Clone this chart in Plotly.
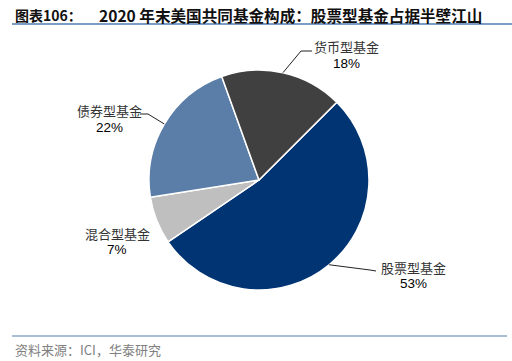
import math
import plotly.graph_objects as go

# ---- data ----
categories = ["股票型基金", "混合型基金", "债券型基金", "货币型基金"]
shares = [53, 7, 22, 18]
colors = ["#003473", "#BFBFBF", "#5B7EA8", "#404040"]

title_prefix = "图表106："
title_main = "2020 年末美国共同基金构成：股票型基金占据半壁江山"
source_text = "资料来源：ICI，华泰研究"

W, H = 512, 361
CX, CY, R = 259, 180, 110
ROT = 45

def px(x):
    return x / W

def py(y):
    return 1 - y / H

fig = go.Figure()
fig.add_trace(go.Pie(
    labels=categories,
    values=shares,
    sort=False,
    direction="clockwise",
    rotation=ROT,
    marker=dict(colors=colors, line=dict(color="white", width=1.5)),
    textinfo="none",
    hoverinfo="label+percent",
    showlegend=False,
    domain=dict(x=[px(CX - R), px(CX + R)], y=[py(CY + R), py(CY - R)]),
))

# slice mid-angles (clockwise from 12 o'clock) computed from the data
total = sum(shares)
mids = {}
acc = ROT
for c, v in zip(categories, shares):
    span = 360 * v / total
    mids[c] = acc + span / 2
    acc += span

def edge(c):
    a = math.radians(mids[c])
    return CX + R * math.sin(a), CY - R * math.cos(a)

# label layout: (elbow point, end point, text centre x, name y, pct y)
label_layout = {
    "货币型基金": ((301, 51), (312, 51), 346, 46, 63),
    "债券型基金": ((148, 114), (140, 114), 109, 111, 128),
    "混合型基金": (None, None, 117, 233, 249),
    "股票型基金": ((370, 270), (376, 271), 413, 267, 283),
}

shapes = []
annotations = []
for c, v in zip(categories, shares):
    elbow, end, tx, ny, pyy = label_layout[c]
    if elbow is not None:
        ex, ey = edge(c)
        shapes.append(dict(type="path", xref="paper", yref="paper",
                           path=f"M {px(ex)} {py(ey)} L {px(elbow[0])} {py(elbow[1])} L {px(end[0])} {py(end[1])}",
                           line=dict(color="#222222", width=1)))
    annotations.append(dict(x=px(tx), y=py(ny), xref="paper", yref="paper", text=c,
                            showarrow=False, xanchor="center", yanchor="middle",
                            font=dict(family="Noto Sans CJK SC", size=13, color="#333333")))
    annotations.append(dict(x=px(tx), y=py(pyy), xref="paper", yref="paper", text=f"{v}%",
                            showarrow=False, xanchor="center", yanchor="middle",
                            font=dict(family="Liberation Sans, Arial", size=13.5, color="#000000")))

# title
annotations.append(dict(x=px(13), y=py(15), xref="paper", yref="paper", text=f"<b>{title_prefix}</b>",
                        showarrow=False, xanchor="left", yanchor="middle",
                        font=dict(family="Noto Sans CJK SC", size=14, color="#111111")))
annotations.append(dict(x=px(97), y=py(15), xref="paper", yref="paper", text=f"<b>{title_main}</b>",
                        showarrow=False, xanchor="left", yanchor="middle",
                        font=dict(family="Noto Sans CJK SC", size=15.6, color="#111111")))
# source
annotations.append(dict(x=px(13), y=py(349), xref="paper", yref="paper", text=source_text,
                        showarrow=False, xanchor="left", yanchor="middle",
                        font=dict(family="Noto Sans CJK SC", size=13, color="#808080")))

shapes.append(dict(type="line", xref="paper", yref="paper", x0=px(12), x1=px(512), y0=py(24), y1=py(24),
                   line=dict(color="#4F7DB0", width=1.5)))
shapes.append(dict(type="line", xref="paper", yref="paper", x0=px(12), x1=px(507), y0=py(336), y1=py(336),
                   line=dict(color="#4F7DB0", width=1)))

fig.update_layout(
    width=W, height=H,
    margin=dict(l=0, r=0, t=0, b=0),
    paper_bgcolor="white", plot_bgcolor="white",
    shapes=shapes, annotations=annotations,
)

fig.write_html("out.html", config={"displayModeBar": False},
               post_script="document.body.style.margin='0';document.body.style.overflow='hidden';")
